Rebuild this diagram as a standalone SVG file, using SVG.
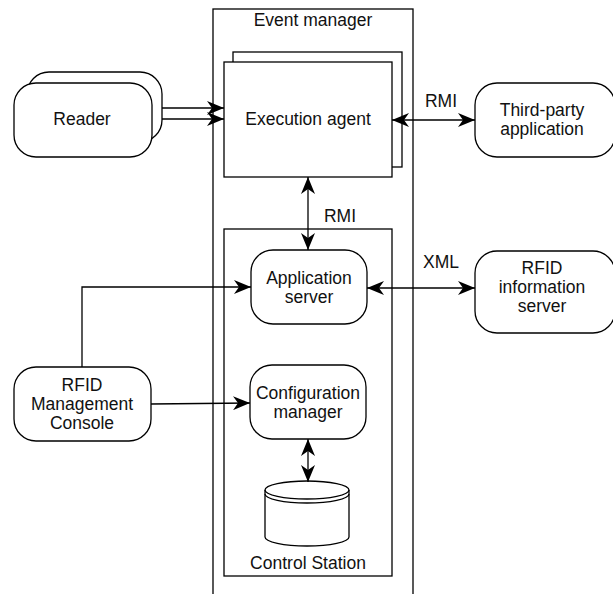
<svg xmlns="http://www.w3.org/2000/svg" width="613" height="594" viewBox="0 0 613 594">
  <style>
    .box { fill: #fff; stroke: #000; stroke-width: 1.3; }
    .frame { fill: none; stroke: #000; stroke-width: 1.3; }
    .lbl { font-family: "Liberation Sans", Arial, sans-serif; font-size: 17.5px; fill: #111; text-anchor: middle; }
    .edge { fill: none; stroke: #000; stroke-width: 1.3; }
  </style>
  <defs>
    <marker id="arrowEnd" markerUnits="userSpaceOnUse" markerWidth="18" markerHeight="14" refX="17" refY="7" orient="auto">
      <path d="M0,0 L17,7 L0,14 L5,7 Z" fill="#000"/>
    </marker>
    <marker id="arrowStart" markerUnits="userSpaceOnUse" markerWidth="18" markerHeight="14" refX="1" refY="7" orient="auto">
      <path d="M18,0 L1,7 L18,14 L13,7 Z" fill="#000"/>
    </marker>
  </defs>
  <rect width="613" height="594" fill="#fff"/>

  <!-- Event manager container -->
  <g id="event-manager">
    <rect class="frame" x="213" y="9" width="200" height="600"/>
    <text class="lbl" x="313" y="26">Event manager</text>
  </g>

  <!-- Control Station container -->
  <g id="control-station">
    <rect class="frame" x="224" y="229" width="168" height="347"/>
    <text class="lbl" x="308" y="569">Control Station</text>
  </g>

  <g id="execution-agent">
    <rect class="box" x="233" y="52" width="169" height="115"/>
    <rect class="box" x="224" y="62" width="168" height="115"/>
    <text class="lbl" x="308" y="125">Execution agent</text>
  </g>

  <g id="reader">
    <rect class="box" x="27" y="72" width="135" height="70" rx="22"/>
    <rect class="box" x="14" y="83" width="138" height="74" rx="22"/>
    <text class="lbl" x="82" y="125">Reader</text>
  </g>

  <g id="third-party">
    <rect class="box" x="475" y="83" width="140" height="74" rx="22"/>
    <text class="lbl" x="542" y="116">Third-party</text>
    <text class="lbl" x="542" y="135">application</text>
  </g>

  <g id="rfid-info-server">
    <rect class="box" x="475" y="251" width="140" height="82" rx="22"/>
    <text class="lbl" x="542" y="274">RFID</text>
    <text class="lbl" x="542" y="293">information</text>
    <text class="lbl" x="542" y="312">server</text>
  </g>

  <g id="application-server">
    <rect class="box" x="251" y="250" width="116" height="74" rx="22"/>
    <text class="lbl" x="309" y="284">Application</text>
    <text class="lbl" x="309" y="303">server</text>
  </g>

  <g id="configuration-manager">
    <rect class="box" x="250" y="365" width="116" height="74" rx="22"/>
    <text class="lbl" x="308" y="399">Configuration</text>
    <text class="lbl" x="308" y="418">manager</text>
  </g>

  <g id="database">
    <path class="box" d="M265,490 L265,537 A42,9 0 0 0 349,537 L349,490 A42,9 0 0 0 265,490 Z"/>
    <path class="frame" d="M265,490 A42,9 0 0 0 349,490"/>
    <path class="frame" d="M265,494 A42,9 0 0 0 349,494"/>
  </g>

  <g id="rfid-console">
    <rect class="box" x="14" y="367" width="137" height="74" rx="22"/>
    <text class="lbl" x="82" y="391">RFID</text>
    <text class="lbl" x="82" y="410">Management</text>
    <text class="lbl" x="82" y="429">Console</text>
  </g>

  <g id="connectors">
    <path class="edge" d="M162,108 L224,108" marker-end="url(#arrowEnd)"/>
    <path class="edge" d="M162,119 L224,119" marker-end="url(#arrowEnd)"/>
    <path class="edge" d="M392,120 L475,120" marker-start="url(#arrowStart)" marker-end="url(#arrowEnd)"/>
    <path class="edge" d="M308,177 L308,250" marker-start="url(#arrowStart)" marker-end="url(#arrowEnd)"/>
    <path class="edge" d="M367,288 L475,288" marker-start="url(#arrowStart)" marker-end="url(#arrowEnd)"/>
    <path class="edge" d="M82,367 L82,287 L251,287" marker-end="url(#arrowEnd)"/>
    <path class="edge" d="M151,404 L250,403" marker-end="url(#arrowEnd)"/>
    <path class="edge" d="M308,439 L308,482" marker-start="url(#arrowStart)" marker-end="url(#arrowEnd)"/>
    <text class="lbl" x="441" y="107">RMI</text>
    <text class="lbl" x="340" y="222">RMI</text>
    <text class="lbl" x="441" y="268">XML</text>
  </g>
</svg>
